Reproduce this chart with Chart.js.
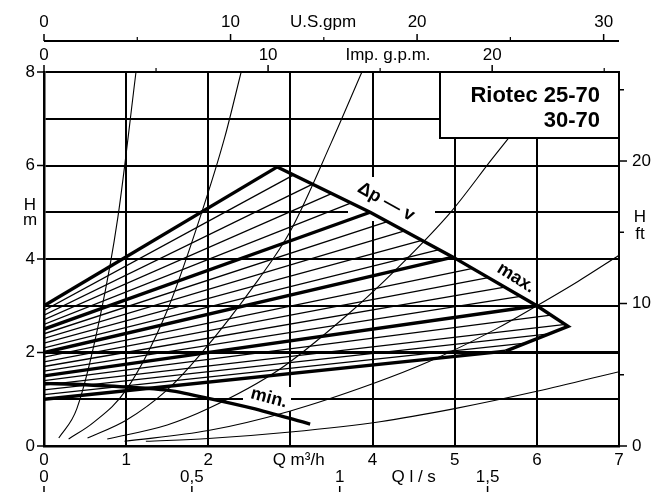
<!DOCTYPE html>
<html>
<head>
<meta charset="utf-8">
<script src="https://cdn.jsdelivr.net/npm/chart.js@4.4.1/dist/chart.umd.min.js"></script>
<style>
  html, body { margin: 0; padding: 0; background: #fff; }
  canvas { display: block; }
</style>
</head>
<body>
<canvas id="pumpChart" width="654" height="492"></canvas>
<script>
// Δp-v control lines: head at zero flow, and where each line meets the max. curve
const dpvStartH = [3.0, 2.9, 2.8, 2.7, 2.6, 2.5, 2.4, 2.3, 2.2, 2.1, 2.0, 1.9, 1.8, 1.7, 1.6, 1.5, 1.4, 1.3, 1.2, 1.1, 1.0];
const dpvEndQ   = [2.84, 3.04, 3.27, 3.50, 3.74, 3.97, 4.18, 4.39, 4.60, 4.81, 4.98, 5.22, 5.41, 5.61, 5.80, 6.00, 6.17, 6.35, 6.15, 5.86, 5.62];
const dpvEndH   = [5.97, 5.80, 5.60, 5.40, 5.20, 5.00, 4.80, 4.60, 4.40, 4.20, 4.04, 3.80, 3.60, 3.40, 3.20, 3.00, 2.80, 2.60, 2.40, 2.20, 2.03];

// max. curve (outer boundary)
const maxQ = [2.84, 3.97, 4.98, 6.00, 6.38, 5.62];
const maxH = [5.97, 5.00, 4.04, 3.00, 2.56, 2.03];

// min. curve
const minQ = [0, 0.5, 1.0, 1.48, 2.0, 2.53, 3.24];
const minH = [1.34, 1.31, 1.26, 1.20, 1.02, 0.81, 0.47];

// system curves (thin parabolas)
const sys1Q = [0.18, 0.40, 0.68, 0.90, 1.12];
const sys1H = [0.17, 0.80, 2.74, 4.90, 8.00];
const sys2Q = [0.30, 0.60, 1.00, 1.50, 1.93, 2.20, 2.40];
const sys2H = [0.15, 0.50, 1.20, 2.90, 5.05, 6.60, 8.00];
const sys3Q = [0.53, 1.00, 1.50, 1.88, 2.61, 3.00, 3.50, 3.87];
const sys3H = [0.17, 0.55, 1.20, 1.91, 3.56, 4.60, 6.50, 8.00];
const sys4Q = [0.77, 1.50, 2.00, 2.86, 3.67, 4.30, 4.96, 5.45, 5.75, 6.25];
const sys4H = [0.15, 0.45, 0.80, 1.63, 2.77, 3.80, 5.02, 6.13, 6.80, 8.00];
const sys5Q = [0.98, 2.00, 3.00, 4.00, 4.68, 5.50, 6.00, 6.50, 7.00];
const sys5H = [0.10, 0.33, 0.75, 1.33, 1.80, 2.50, 3.00, 3.52, 4.08];
const sys6Q = [1.24, 2.00, 3.00, 4.09, 5.00, 6.00, 7.00];
const sys6H = [0.10, 0.16, 0.30, 0.52, 0.80, 1.17, 1.59];

// tick labels
const qTicks = [0, 1, 2, 4, 5, 6, 7];
const hTicks = [0, 2, 4, 6, 8];
const lsTicks = [0, 0.5, 1, 1.5];
const lsTickText = ['0', '0,5', '1', '1,5'];
const usTicks = [0, 10, 20, 30];
const usMinor = [5, 15, 25];
const impTicks = [0, 10, 20];
const impMinor = [5, 15, 25];
const ftTicks = [0, 10, 20];
const ftMinor = [5, 15, 25];

// unit conversions
const M3H_PER_LS = 3.6;
const M3H_PER_USGPM = 0.2271;
const M3H_PER_IMPGPM = 0.2728;
const M_PER_FT = 0.3048;

const FONT = '"Liberation Sans", Arial, Helvetica, sans-serif';

function pts(qs, hs) {
  return qs.map((q, i) => ({ x: q, y: hs[i] }));
}

const datasets = [];

[[sys1Q, sys1H], [sys2Q, sys2H], [sys3Q, sys3H], [sys4Q, sys4H], [sys5Q, sys5H], [sys6Q, sys6H]].forEach(c => {
  datasets.push({
    data: pts(c[0], c[1]),
    borderColor: '#000',
    borderWidth: 1.1,
    cubicInterpolationMode: 'monotone'
  });
});

dpvStartH.forEach((h0, i) => {
  datasets.push({
    data: [{ x: 0, y: h0 }, { x: dpvEndQ[i], y: dpvEndH[i] }],
    borderColor: '#000',
    borderWidth: i % 5 === 0 ? 3.4 : 1.3
  });
});

datasets.push({ data: pts(maxQ, maxH), borderColor: '#000', borderWidth: 3.4, borderJoinStyle: 'miter' });
datasets.push({ data: pts(minQ, minH), borderColor: '#000', borderWidth: 3.4, tension: 0.3 });

function text(ctx, s, x, y, font, align, angle) {
  ctx.save();
  ctx.translate(x, y);
  if (angle) ctx.rotate(angle * Math.PI / 180);
  ctx.font = font;
  ctx.textAlign = align || 'center';
  ctx.textBaseline = 'middle';
  ctx.fillStyle = '#000';
  ctx.fillText(s, 0, 0);
  ctx.restore();
}

function line(ctx, x1, y1, x2, y2, w) {
  ctx.save();
  ctx.strokeStyle = '#000';
  ctx.lineWidth = w || 1.5;
  ctx.beginPath();
  ctx.moveTo(x1, y1);
  ctx.lineTo(x2, y2);
  ctx.stroke();
  ctx.restore();
}

const overlay = {
  id: 'overlay',
  beforeDatasetsDraw(chart) {
    const ctx = chart.ctx;
    ctx.save();
    ctx.fillStyle = '#fff';
    // label patches that break the grid
    ctx.fillRect(348, 177, 87, 44);
    ctx.fillRect(243, 387, 48, 24);
    ctx.restore();
  },
  afterDatasetsDraw(chart) {
    const ctx = chart.ctx;
    const xs = chart.scales.x, ys = chart.scales.y;
    const a = chart.chartArea;
    const num = '17px ' + FONT;
    const bold = 'bold 18px ' + FONT;

    // model box
    ctx.save();
    ctx.fillStyle = '#fff';
    ctx.fillRect(440, a.top, a.right - 440, 66);
    ctx.strokeStyle = '#000';
    ctx.lineWidth = 2;
    ctx.strokeRect(440, a.top, a.right - 440, 66);
    ctx.font = 'bold 22px ' + FONT;
    ctx.textAlign = 'right';
    ctx.textBaseline = 'alphabetic';
    ctx.fillStyle = '#000';
    ctx.fillText('Riotec 25-70', 600, 102);
    ctx.fillText('30-70', 600, 127);
    ctx.restore();

    // curve labels
    text(ctx, 'Δp — v', 386, 202, bold, 'center', 29);
    text(ctx, 'max.', 516, 278, bold, 'center', 32);
    text(ctx, 'min.', 269, 398, bold, 'center', 15);

    // left axis H m
    hTicks.forEach(v => {
      const y = ys.getPixelForValue(v);
      line(ctx, 37, y, a.left, y, 1.5);
      text(ctx, String(v), 35, y, num, 'right');
    });
    text(ctx, 'H', 30, 205, num);
    text(ctx, 'm', 30, 220, num);

    // right axis H ft
    ftTicks.forEach(v => {
      const y = ys.getPixelForValue(v * M_PER_FT);
      line(ctx, a.right, y, a.right + 8, y, 1.5);
      text(ctx, String(v), a.right + 13, y, num, 'left');
    });
    ftMinor.forEach(v => {
      const y = ys.getPixelForValue(v * M_PER_FT);
      line(ctx, a.right, y, a.right + 5, y, 1.5);
    });
    text(ctx, 'H', 640, 217, num);
    text(ctx, 'ft', 640, 234, num);

    // bottom axis Q m³/h
    qTicks.forEach(v => {
      text(ctx, String(v), xs.getPixelForValue(v), 460, num);
    });
    text(ctx, 'Q m³/h', xs.getPixelForValue(3.1), 460, num);

    // bottom axis Q l/s
    lsTicks.forEach((v, i) => {
      const x = xs.getPixelForValue(v * M3H_PER_LS);
      text(ctx, lsTickText[i], x, 477, num);
      line(ctx, x, 486, x, 492, 1.5);
    });
    text(ctx, 'Q l / s', xs.getPixelForValue(4.5), 477, num);

    // top axis Imp. g.p.m. (on the plot frame)
    impTicks.forEach(v => {
      const x = xs.getPixelForValue(v * M3H_PER_IMPGPM);
      line(ctx, x, a.top, x, a.top - 7, 1.5);
      text(ctx, String(v), x, 55, num);
    });
    impMinor.forEach(v => {
      const x = xs.getPixelForValue(v * M3H_PER_IMPGPM);
      if (x < a.right) line(ctx, x, a.top, x, a.top - 4, 1.2);
    });
    text(ctx, 'Imp. g.p.m.', 388, 55, num);

    // top axis U.S. gpm
    const yUs = 41;
    line(ctx, a.left, yUs, a.right, yUs, 2);
    usTicks.forEach(v => {
      const x = xs.getPixelForValue(v * M3H_PER_USGPM);
      line(ctx, x, yUs, x, yUs - 7, 1.5);
      text(ctx, String(v), x, 22, num);
    });
    usMinor.forEach(v => {
      const x = xs.getPixelForValue(v * M3H_PER_USGPM);
      line(ctx, x, yUs, x, yUs - 4, 1.2);
    });
    text(ctx, 'U.S.gpm', 323, 22, num);
  }
};

new Chart(document.getElementById('pumpChart').getContext('2d'), {
  type: 'scatter',
  data: { datasets: datasets },
  options: {
    responsive: false,
    animation: false,
    devicePixelRatio: 1,
    showLine: true,
    layout: { padding: { left: 44, right: 35, top: 72, bottom: 46 } },
    elements: { point: { radius: 0 }, line: { fill: false } },
    plugins: { legend: { display: false }, tooltip: { enabled: false } },
    scales: {
      x: {
        type: 'linear', min: 0, max: 7,
        ticks: { display: false, stepSize: 1 },
        grid: { color: '#000', lineWidth: 2, drawTicks: false },
        border: { color: '#000', width: 2.5 }
      },
      y: {
        type: 'linear', min: 0, max: 8,
        ticks: { display: false, stepSize: 1 },
        grid: { color: '#000', lineWidth: c => (c.tick && c.tick.value === 2 ? 3 : 2), drawTicks: false },
        border: { color: '#000', width: 2.5 }
      }
    }
  },
  plugins: [overlay]
});
</script>
</body>
</html>
